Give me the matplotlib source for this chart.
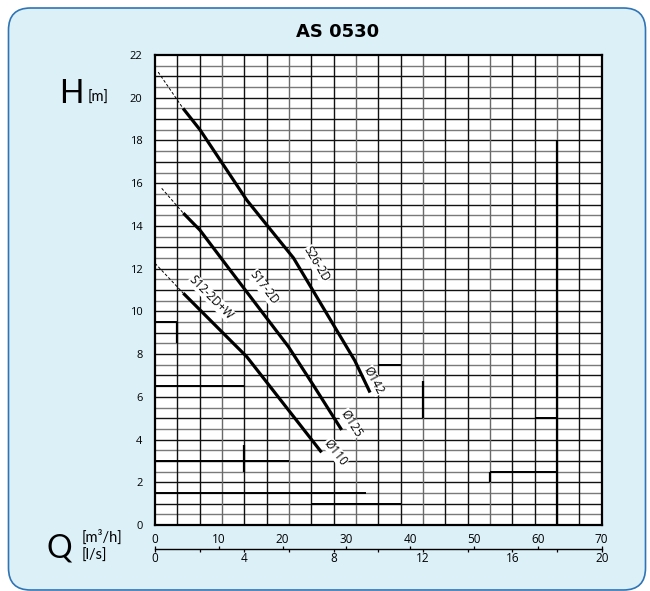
import numpy as np
import matplotlib
matplotlib.use("Agg")
import matplotlib.pyplot as plt
from matplotlib.patches import FancyBboxPatch
from matplotlib.transforms import IdentityTransform

# ---------------- data ----------------
title = "AS 0530"
# pump curves: flow Q [m3/h] and head H [m]
s26_q = [4.4, 7.05, 14.4, 17.5, 21.7, 26.9, 31.3, 33.7]
s26_h = [19.5, 18.5, 15.2, 14.05, 12.5, 9.9, 7.7, 6.2]
s26_dash_q = [0.5, 4.4]
s26_dash_h = [21.2, 19.5]

s17_q = [4.43, 7.05, 11.75, 20.9, 24.8, 29.25]
s17_h = [14.6, 13.8, 11.94, 8.35, 6.55, 4.45]
s17_dash_q = [1.05, 4.43]
s17_dash_h = [15.76, 14.6]

s12_q = [4.43, 11.75, 14.37, 26.1]
s12_h = [10.85, 8.66, 7.88, 3.4]
s12_dash_q = [0.0, 4.43]
s12_dash_h = [12.25, 10.85]

curve_names = ["S26-2D", "S17-2D", "S12-2D+W"]
curve_label_q = [25.3, 17.1, 8.8]
curve_label_h = [12.2, 11.1, 10.65]
diam_names = ["Ø142", "Ø125", "Ø110"]
diam_label_q = [34.3, 30.7, 28.3]
diam_label_h = [6.75, 4.75, 3.4]

h_ticks = list(range(0, 23, 2))
q_ticks = list(range(0, 71, 10))      # m3/h
ls_ticks = list(range(0, 21, 4))      # l/s
ls_minor = [2, 6, 10, 14, 18]
q_per_ls = 3.5

# darker segments of the printed grid (H, Q from, Q to) / (Q, H from, H to)
heavy_h = [(9.5, 0, 3.5), (6.5, 0, 14), (3.0, 0, 21), (1.5, 0, 33), (1.0, 24.5, 38.5),
           (5.0, 59.5, 63), (2.5, 52.5, 63), (7.5, 35, 38.5)]
heavy_v = [(63.0, 0, 18), (3.5, 8.5, 9.5), (42.0, 5.0, 6.75), (14.0, 2.5, 3.75),
           (52.5, 2.0, 2.5)]

# ---------------- figure ----------------
W_PX, H_PX = 650, 591
fig = plt.figure(figsize=(W_PX / 100, H_PX / 100), dpi=100)

def fx(px):
    return px / W_PX

def fy(py):
    return 1 - py / H_PX

# rounded background box (pixel units)
box = FancyBboxPatch((8.5, H_PX - 590), 637, 582,
                     boxstyle="round,pad=0,rounding_size=22",
                     transform=IdentityTransform(), facecolor="#dcf0f8",
                     edgecolor="#2f74b5", linewidth=1.2, zorder=-10)
fig.patches.append(box)

num_font = ["Open Sans", "DejaVu Sans"]
lab_font = ["Lato", "DejaVu Sans"]

fig.text(fx(338), fy(32), title, ha="center", va="center", fontsize=13,
         fontweight="bold", family=["DejaVu Sans"])

ax_l, ax_r, ax_t, ax_b = 155, 601.7, 55, 525
ax = fig.add_axes([fx(ax_l), fy(ax_b), fx(ax_r - ax_l), (ax_b - ax_t) / H_PX])
ax.set_zorder(1)
ax.set_xlim(0, 70)
ax.set_ylim(0, 22)
ax.set_facecolor("white")

# grid
for i, h in enumerate(np.arange(0.5, 22, 0.5)):
    ax.axhline(h, color="#111111" if i % 2 else "#7a7a7a", lw=1.0, zorder=1)
for i, q in enumerate(np.arange(q_per_ls, 70, q_per_ls)):
    ax.axvline(q, color="#111111" if i % 3 != 2 else "#6a6a6a", lw=1.0, zorder=1)
for h, q0, q1 in heavy_h:
    ax.plot([q0, q1], [h, h], color="black", lw=1.4, zorder=2, solid_capstyle="butt")
for q, h0, h1 in heavy_v:
    ax.plot([q, q], [h0, h1], color="black", lw=1.6, zorder=2, solid_capstyle="butt")

for s in ax.spines.values():
    s.set_linewidth(1.6)
    s.set_color("black")
    s.set_zorder(5)

ax.set_xticks([])
ax.set_yticks(h_ticks)
ax.set_yticklabels([str(t) for t in h_ticks], family=num_font, fontsize=8)
ax.tick_params(axis="y", length=0, pad=9)

# curves
for dq, dh in [(s26_dash_q, s26_dash_h), (s17_dash_q, s17_dash_h), (s12_dash_q, s12_dash_h)]:
    ax.plot(dq, dh, color="black", lw=0.7, ls=(0, (3, 2)), zorder=3)
for q, h in [(s26_q, s26_h), (s17_q, s17_h), (s12_q, s12_h)]:
    ax.plot(q, h, color="black", lw=2.3, zorder=4, solid_capstyle="butt")

def angle_at(qs, hs, qv):
    hv0 = np.interp(qv - 2.5, qs, hs)
    hv1 = np.interp(qv + 2.5, qs, hs)
    p0 = ax.transData.transform((qv - 2.5, hv0))
    p1 = ax.transData.transform((qv + 2.5, hv1))
    return np.degrees(np.arctan2(p1[1] - p0[1], p1[0] - p0[0]))

curves = [(s26_q, s26_h), (s17_q, s17_h), (s12_q, s12_h)]
for (q, h), name, lq, lh in zip(curves, curve_names, curve_label_q, curve_label_h):
    ang = angle_at(q, h, lq)
    ax.text(lq, lh, name, rotation=ang, rotation_mode="anchor", ha="center",
            va="center", fontsize=8.5, family=num_font, zorder=3.5,
            bbox=dict(facecolor="white", edgecolor="none", pad=0.2))
for (q, h), name, lq, lh in zip(curves, diam_names, diam_label_q, diam_label_h):
    ang = angle_at(q, h, q[-1] - 2.5)
    ax.text(lq, lh, name, rotation=ang, rotation_mode="anchor", ha="center",
            va="center", fontsize=8.5, family=num_font, zorder=3.5,
            bbox=dict(facecolor="white", edgecolor="none", pad=0.2))

# axis names
fig.text(fx(71), fy(94), "H", ha="center", va="center", fontsize=23,
         fontweight="normal", family=lab_font)
fig.text(fx(98), fy(98), "[m]", ha="center", va="center", fontsize=10.5,
         fontweight="normal", family=lab_font)
fig.text(fx(59), fy(548), "Q", ha="center", va="center", fontsize=23,
         fontweight="normal", family=lab_font)
fig.text(fx(82), fy(537), "[m³/h]", ha="left", va="center", fontsize=10.5,
         fontweight="normal", family=lab_font)
fig.text(fx(82), fy(556), "[l/s]", ha="left", va="center", fontsize=10.5,
         fontweight="normal", family=lab_font)

# flow scale below the chart
line_y = 549.3
axs = fig.add_axes([fx(ax_l), fy(line_y), fx(ax_r - ax_l), 1e-4])
axs.set_zorder(1)
axs.set_xlim(0, 70)
axs.set_ylim(0, 1)
axs.patch.set_visible(False)
for k in ["left", "right", "bottom"]:
    axs.spines[k].set_visible(False)
axs.spines["top"].set_linewidth(1.0)
axs.set_yticks([])
axs.xaxis.tick_top()
axs.set_xticks(q_ticks)
axs.set_xticklabels([str(t) for t in q_ticks], family=num_font, fontsize=8.5)
axs.tick_params(axis="x", direction="out", length=2.5, width=0.9, pad=-0.5)

sec = axs.secondary_xaxis("bottom", functions=(lambda x: x / q_per_ls, lambda x: x * q_per_ls))
sec.spines["bottom"].set_visible(False)
sec.set_xticks(ls_ticks)
sec.set_xticklabels([str(t) for t in ls_ticks], family=num_font, fontsize=8.5)
sec.set_xticks(ls_minor, minor=True)
sec.tick_params(axis="x", which="both", direction="out", length=2.5, width=0.9, pad=-0.5)

fig.savefig("out.png", dpi=100, facecolor="white")
